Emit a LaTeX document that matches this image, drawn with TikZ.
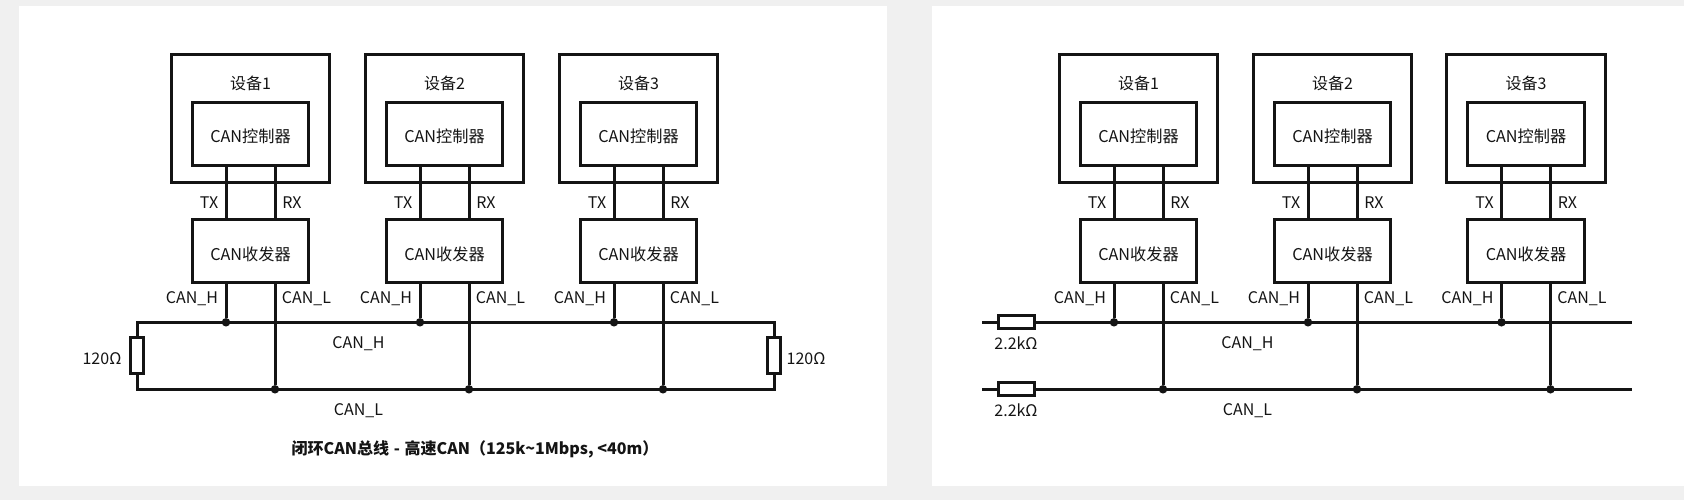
\documentclass[tikz,border=0pt]{standalone}
\usepackage{fontspec}
\setmainfont{Noto Sans CJK SC}
\definecolor{pagegray}{HTML}{F0F0F0}
\definecolor{ink}{HTML}{141414}
\tikzset{
  panel/.style={fill=white,draw=none},
  wire/.style={line width=3pt,draw=ink},
  boxbase/.style={draw=ink,line width=3pt,fill=white,inner sep=0pt,outer sep=0pt,text=ink,font=\fontsize{16.2}{18}\selectfont},
  outerbox/.style={boxbase,minimum width=158.4pt,minimum height=127.5pt},
  ctlbox/.style={boxbase,minimum width=116.6pt,minimum height=62.7pt,text height=17pt,text depth=0pt},
  xcvbox/.style={boxbase,minimum width=116.6pt,minimum height=62.7pt,text height=18.4pt,text depth=0pt},
  lab/.style={inner sep=0pt,outer sep=0pt,text=ink,font=\fontsize{16}{18}\selectfont},
  titlelab/.style={inner sep=0pt,outer sep=0pt,text=ink,font=\fontsize{16}{18}\selectfont\bfseries},
  junction/.style={circle,fill=ink,draw=none,minimum size=8.5pt,inner sep=0pt,outer sep=0pt},
  vres/.style={draw=ink,line width=3pt,fill=white,minimum width=13pt,minimum height=36pt,inner sep=0pt,outer sep=0pt},
  hres/.style={draw=ink,line width=3pt,fill=white,minimum width=36pt,minimum height=13pt,inner sep=0pt,outer sep=0pt},
}
% #1 name prefix, #2 centre x, #3 device number
\newcommand{\candevice}[3]{
  \node[outerbox,anchor=north] (#1dev) at (#2,55) {};
  \node[lab] (#1devlab) at (#2,83) {设备#3};
  \node[ctlbox] (#1ctl) at (#2,133.7) {CAN控制器};
  \node[xcvbox] (#1xcv) at (#2,251.3) {CAN收发器};
  \coordinate (#1tx) at ({#2-24.5},205);
  \coordinate (#1rx) at ({#2+24.5},205);
  \node[junction] (#1jh) at ({#2-24.5},322.3) {};
  \node[junction] (#1jl) at ({#2+24.5},389.3) {};
  \draw[wire] (#1ctl.south -| #1tx) -- (#1xcv.north -| #1tx);
  \draw[wire] (#1ctl.south -| #1rx) -- (#1xcv.north -| #1rx);
  \draw[wire] (#1xcv.south -| #1jh) -- (#1jh);
  \draw[wire] (#1xcv.south -| #1jl) -- (#1jl);
  \node[lab] (#1txlab) at ({#2-41.5},203) {TX};
  \node[lab] (#1rxlab) at ({#2+41.5},203) {RX};
  \node[lab] (#1hlab) at ({#2-58.5},299) {CAN\_H};
  \node[lab] (#1llab) at ({#2+56},299) {CAN\_L};
}
\begin{document}
\begin{tikzpicture}[x=1pt,y=-1pt]
\useasboundingbox (0,0) rectangle (1684,500);
\fill[pagegray] (0,0) rectangle (1684,500);
\fill[panel] (19,6) rectangle (887,486);
\fill[panel] (932,6) rectangle (1684,486);

% ---------- left: closed-loop bus
\coordinate (tl) at (137,322.3);
\coordinate (tr) at (774,322.3);
\coordinate (bl) at (137,389.3);
\coordinate (br) at (774,389.3);
\draw[wire] (tl) -- (tr);
\draw[wire] (bl) -- (br);
\node[vres] (rl) at (137,355.3) {};
\node[vres] (rr) at (774,355.3) {};
\draw[wire,line cap=rect] (tl) -- (rl.north);
\draw[wire,line cap=rect] (rl.south) -- (bl);
\draw[wire,line cap=rect] (tr) -- (rr.north);
\draw[wire,line cap=rect] (rr.south) -- (br);
\node[lab] (rllab) at (102,358.5) {120Ω};
\node[lab] (rrlab) at (806,358.5) {120Ω};
\candevice{a}{250.5}{1}
\candevice{b}{444.5}{2}
\candevice{c}{638.5}{3}
\node[lab] (lhlab) at (358.5,344) {CAN\_H};
\node[lab] (lllab) at (358.5,410.5) {CAN\_L};
\node[titlelab] (title) at (475,449.5) {闭环CAN总线\hspace{1pt} - \hspace{1pt}高速CAN（125k\textasciitilde1Mbps, <40m）};

% ---------- right: open bus
\coordinate (hs) at (982,322.3);
\coordinate (he) at (1632,322.3);
\coordinate (ls) at (982,389.3);
\coordinate (le) at (1632,389.3);
\draw[wire] (hs) -- (he);
\draw[wire] (ls) -- (le);
\node[hres] (r1) at (1016,322.3) {};
\node[hres] (r2) at (1016,389.3) {};
\node[lab] (r1lab) at (1016,343.5) {2.2kΩ};
\node[lab] (r2lab) at (1016,410) {2.2kΩ};
\candevice{d}{1138.5}{1}
\candevice{e}{1332.5}{2}
\candevice{f}{1526}{3}
\node[lab] (rhlab) at (1247.5,344) {CAN\_H};
\node[lab] (rllab2) at (1247.5,410.5) {CAN\_L};
\end{tikzpicture}
\end{document}
